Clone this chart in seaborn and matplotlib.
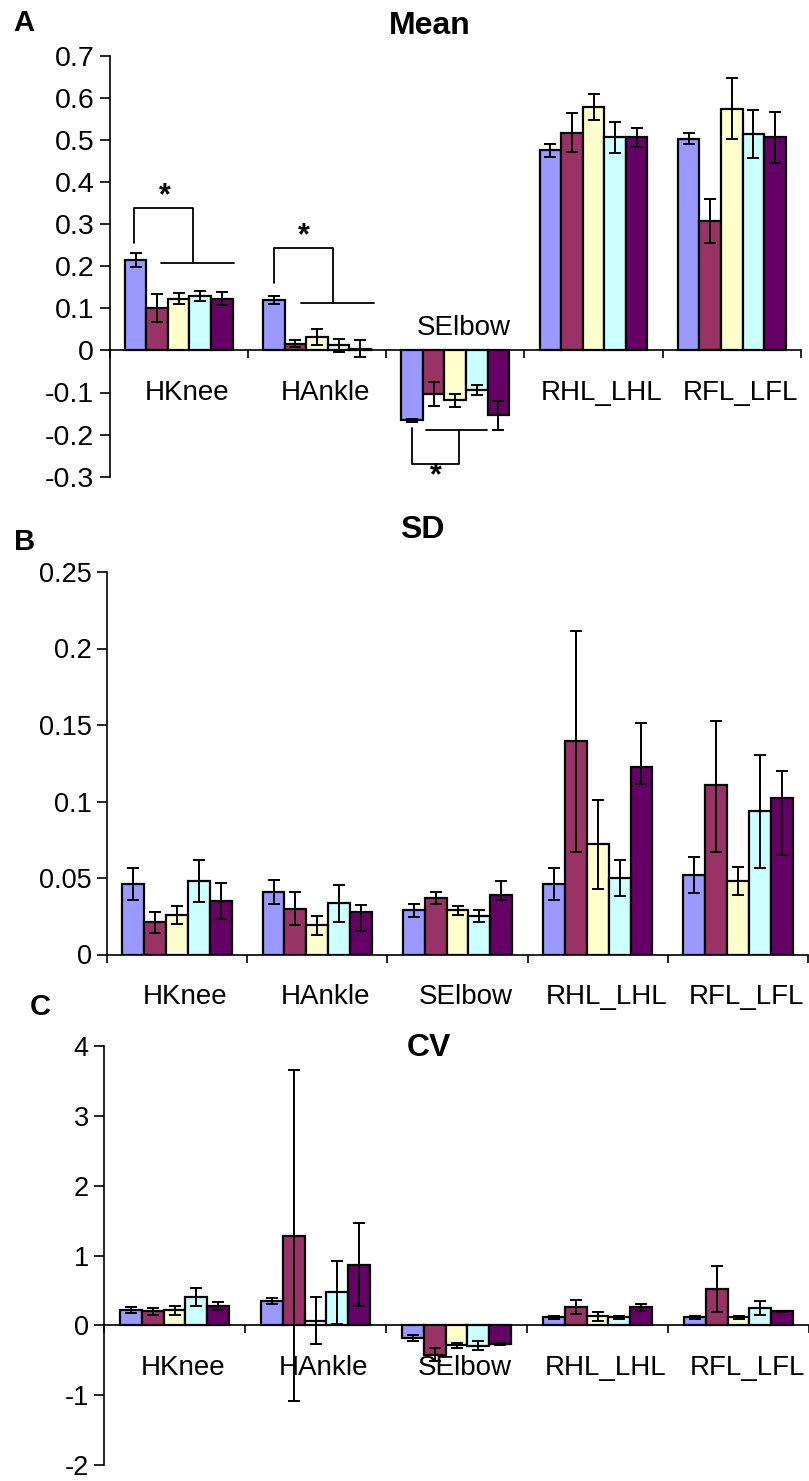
import numpy as np
import pandas as pd
import seaborn as sns
import matplotlib.pyplot as plt

joints = ["HKnee", "HAnkle", "SElbow", "RHL_LHL", "RFL_LFL"]
groups = ["g1", "g2", "g3", "g4", "g5"]
colors = ["#9999FF", "#993366", "#FFFFCC", "#CCFFFF", "#660066"]

# rows = joints, columns = groups
mean_vals = [[0.215, 0.101, 0.123, 0.130, 0.123],
             [0.120, 0.016, 0.033, 0.012, 0.004],
             [-0.166, -0.103, -0.119, -0.093, -0.154],
             [0.475, 0.517, 0.578, 0.506, 0.506],
             [0.503, 0.308, 0.574, 0.514, 0.506]]
mean_err = [[0.016, 0.033, 0.013, 0.012, 0.016],
            [0.010, 0.009, 0.019, 0.016, 0.020],
            [0.004, 0.029, 0.016, 0.012, 0.034],
            [0.015, 0.046, 0.031, 0.037, 0.022],
            [0.013, 0.052, 0.072, 0.056, 0.060]]

sd_vals = [[0.046, 0.021, 0.026, 0.048, 0.035],
           [0.041, 0.030, 0.019, 0.0335, 0.028],
           [0.029, 0.037, 0.029, 0.025, 0.039],
           [0.046, 0.1397, 0.072, 0.050, 0.1227],
           [0.052, 0.1107, 0.048, 0.0937, 0.1022]]
sd_err_lo = [[0.0105, 0.007, 0.006, 0.014, 0.0115],
             [0.008, 0.0107, 0.006, 0.012, 0.0126],
             [0.0043, 0.004, 0.003, 0.004, 0.0035],
             [0.0107, 0.0726, 0.029, 0.0115, 0.0114],
             [0.012, 0.0436, 0.009, 0.037, 0.0373]]
sd_err_hi = [[0.0105, 0.007, 0.006, 0.014, 0.0115],
             [0.008, 0.0107, 0.006, 0.012, 0.0043],
             [0.0043, 0.004, 0.003, 0.004, 0.0089],
             [0.0107, 0.072, 0.029, 0.0115, 0.0287],
             [0.012, 0.0418, 0.009, 0.037, 0.018]]

cv_vals = [[0.219, 0.200, 0.214, 0.400, 0.281],
           [0.352, 1.281, 0.067, 0.476, 0.871],
           [-0.181, -0.419, -0.286, -0.290, -0.267],
           [0.114, 0.257, 0.129, 0.114, 0.262],
           [0.114, 0.524, 0.114, 0.248, 0.200]]
cv_err = [[0.045, 0.045, 0.07, 0.13, 0.055],
          [0.043, 2.37, 0.34, 0.45, 0.60],
          [0.045, 0.09, 0.04, 0.07, 0.02],
          [0.02, 0.10, 0.065, 0.02, 0.05],
          [0.02, 0.33, 0.02, 0.10, 0.01]]

mean_ticks = [-0.3, -0.2, -0.1, 0, 0.1, 0.2, 0.3, 0.4, 0.5, 0.6, 0.7]
sd_ticks = [0, 0.05, 0.1, 0.15, 0.2, 0.25]
cv_ticks = [-2, -1, 0, 1, 2, 3, 4]

sns.set_style("ticks")
plt.rcParams['font.family'] = ['Liberation Sans', 'DejaVu Sans']
plt.rcParams['axes.unicode_minus'] = False
plt.rcParams['text.color'] = 'black'
plt.rcParams['axes.edgecolor'] = 'black'
plt.rcParams['xtick.color'] = 'black'
plt.rcParams['ytick.color'] = 'black'

W, H = 809, 1481
fig = plt.figure(figsize=(W / 100, H / 100), dpi=100)


def rect(left, right, top, bottom):
    return [left / W, 1 - bottom / H, (right - left) / W, (bottom - top) / H]


def fig_pt(x, y):
    return x / W, 1 - y / H


def draw_panel(ax, vals, err_lo, err_hi, ticks, label_y, tick_size, skip_label=None):
    df = pd.DataFrame([(j, g, vals[i][k]) for i, j in enumerate(joints)
                       for k, g in enumerate(groups)],
                      columns=["joint", "group", "value"])
    sns.barplot(data=df, x="joint", y="value", hue="group", order=joints,
                hue_order=groups, palette=colors, width=0.78, errorbar=None,
                edgecolor="black", linewidth=1.6, saturation=1, legend=False, ax=ax)
    # error bars at the centres of the bars seaborn drew
    xs, ys, lo, hi = [], [], [], []
    for p in ax.patches:
        w = p.get_width()
        if w <= 0:
            continue
        cx = p.get_x() + w / 2
        i = int(round(cx))
        k = int(round((cx - i) / w + 2))
        xs.append(cx)
        ys.append(vals[i][k])
        lo.append(err_lo[i][k])
        hi.append(err_hi[i][k])
    ax.errorbar(xs, ys, yerr=[lo, hi], fmt="none", ecolor="black",
                elinewidth=1.4, capsize=4.5, capthick=1.4, zorder=4)
    ax.set_xlim(-0.5, 4.5)
    ax.set_ylim(ticks[0], ticks[-1])
    ax.set_yticks(ticks)
    ax.set_yticklabels(["%g" % t for t in ticks])
    ax.set_xticks(np.arange(-0.5, 5, 1))
    ax.set_xticklabels([])
    ax.set_xlabel("")
    ax.set_ylabel("")
    for s in ["top", "right"]:
        ax.spines[s].set_visible(False)
    ax.spines["bottom"].set_position(("data", 0))
    ax.spines["left"].set_linewidth(1.2)
    ax.spines["bottom"].set_linewidth(1.2)
    ax.tick_params(axis="y", direction="out", length=7, width=1.2, pad=4, labelsize=tick_size)
    ax.tick_params(axis="x", direction="out", length=6, width=1.2)
    for i, name in enumerate(joints):
        y = label_y
        if skip_label is not None and i == skip_label[0]:
            y = skip_label[1]
        ax.text(i + 0.06, y, name, ha="center", va="center", fontsize=20)


axA = fig.add_axes(rect(109.5, 801, 55.7, 476.7))
draw_panel(axA, mean_vals, mean_err, mean_err, mean_ticks, -0.100, 20.5, skip_label=(2, 0.054))

axB = fig.add_axes(rect(107, 808, 572, 954.5))
draw_panel(axB, sd_vals, sd_err_lo, sd_err_hi, sd_ticks, -0.0278, 19.5)

axC = fig.add_axes(rect(104, 809, 1046, 1465))
draw_panel(axC, cv_vals, cv_err, cv_err, cv_ticks, -0.604, 19.5)

# significance brackets in panel A
br = dict(color="black", lw=1.3, clip_on=False, zorder=5)
axA.plot([-0.32, -0.32, 0.102, 0.102], [0.255, 0.338, 0.338, 0.207], **br)
axA.plot([-0.129, 0.397], [0.207, 0.207], **br)
axA.text(-0.102, 0.365, "*", ha="center", va="center", fontsize=22, fontweight="bold")
axA.plot([0.692, 0.692, 1.116, 1.116], [0.160, 0.243, 0.243, 0.1125], **br)
axA.plot([0.882, 1.41], [0.1125, 0.1125], **br)
axA.text(0.906, 0.272, "*", ha="center", va="center", fontsize=22, fontweight="bold")
axA.plot([1.687, 1.687, 2.025, 2.025], [-0.184, -0.27, -0.27, -0.188], **br)
axA.plot([1.789, 2.227], [-0.188, -0.188], **br)
axA.text(1.861, -0.30, "*", ha="center", va="center", fontsize=22, fontweight="bold")

# titles and panel letters
for (x, y), s in [((430, 26), "Mean"), ((422, 530), "SD"), ((429, 1048), "CV")]:
    fig.text(*fig_pt(x, y), s, ha="center", va="center", fontsize=23, fontweight="bold")
for (x, y), s in [((24, 23), "A"), ((25, 542), "B"), ((40, 1007), "C")]:
    fig.text(*fig_pt(x, y), s, ha="center", va="center", fontsize=21, fontweight="bold")

fig.savefig("out.png", dpi=100)
